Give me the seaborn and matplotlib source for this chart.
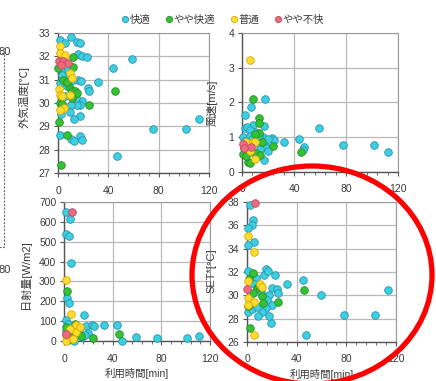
import numpy as np
import pandas as pd
import matplotlib
matplotlib.use("Agg")
import matplotlib.pyplot as plt
import seaborn as sns
from matplotlib.lines import Line2D
from matplotlib.patches import Ellipse, Rectangle
from matplotlib.ticker import MultipleLocator

# ---- data -------------------------------------------------------------
categories = ["快適", "やや快適", "普通", "やや不快"]

# usage time [min], outdoor temperature [°C], comfort category index
temp_x = [1.6, 5.6, 10.3, 14.8, 17.5, 16, 18.8, 22.8, 2.9, 7.7, 59, 44, 16.1, 18.2, 5.6, 32,
          23.6, 24.4, 6.9, 5.6, 18.8, 17.5, 15, 10.3, 2.4, 9.5, 17.5, 13, 1.6, 10.3, 13, 17.5,
          18.8, 46.6, 75.7, 102, 112, 3.5, 8, 12, 1.2, 14,
          12.2, 0.3, 12.2, 4.2, 45.3, 9.5, 10.9, 13.5, 14.8, 24.6, 1.6, 3, 0.8, 6.9, 2.4, 7, 11,
          1.6, 1.6, 5.6, 9.5, 10.9, 0.8, 1.6, 9.5, 5, 1.6, 3,
          0.8, 4.2, 7.7, 2]
temp_y = [32.71, 32.57, 32.81, 32.61, 32.57, 32.1, 32.0, 31.98, 31.36, 31.43, 31.9, 31.5, 31.0,
          30.95, 31.07, 30.9, 30.64, 30.5, 30.71, 30.3, 30.1, 29.9, 29.9, 29.93, 29.53, 29.61,
          29.43, 29.3, 28.64, 28.44, 28.38, 28.57, 28.4, 27.74, 28.87, 28.87, 29.3, 31.2, 30.8,
          31.0, 30.85, 30.2,
          31.96, 31.5, 31.53, 31.0, 30.53, 30.64, 30.5, 30.5, 30.45, 29.9, 30.0, 29.95, 29.19,
          28.61, 27.35, 30.9, 30.2,
          32.43, 32.14, 32.07, 31.29, 31.07, 30.6, 30.36, 30.36, 29.79, 29.7, 30.3,
          31.79, 31.79, 31.71, 31.65]
temp_c = [0] * 42 + [1] * 17 + [2] * 11 + [3] * 4

# usage time [min], wind speed [m/s]
wind_x = [2.6, 6.6, 17.8, 8.4, 17.3, 2, 4, 59.4, 10, 5.8, 0.8, 6, 16, 23, 24.5, 32.6, 44, 47.4,
          46.8, 12.7, 18, 18.5, 14, 3.5, 16.7, 20, 77.5, 101.7, 112.4, 8, 13, 20, 2, 9, 12,
          8.4, 12.7, 12.7, 12.7, 10, 45.3, 0.8, 11, 23.7, 4.6, 6.5, 14, 3, 15, 1.5,
          5.9, 3, 8.4, 10, 9.7, 1.5, 6,
          0.8, 6.6, 1.5]
wind_y = [1.63, 1.86, 2.11, 1.36, 1.31, 1.28, 1.3, 1.28, 1.15, 1.2, 1.02, 1.05, 1.02, 0.98, 0.93,
          0.85, 0.96, 0.71, 0.64, 0.8, 0.78, 0.7, 0.65, 0.62, 0.35, 0.6, 0.78, 0.78, 0.58, 0.95,
          1.05, 0.95, 0.9, 0.55, 0.45,
          2.11, 1.55, 1.41, 1.12, 1.1, 0.58, 0.52, 0.55, 0.74, 0.3, 0.27, 0.5, 0.45, 0.85, 0.7,
          3.21, 0.85, 0.87, 0.85, 0.38, 0.75, 0.6,
          0.82, 0.71, 0.68]
wind_c = [0] * 35 + [1] * 15 + [2] * 7 + [3] * 3

# usage time [min], solar radiation [W/m2]
solar_x = [2, 5.3, 1.4, 4.1, 6.1, 2.5, 4.1, 16.2, 1.4, 10.2, 18.4, 23.3, 32.9, 43.6, 48, 59,
           76.5, 101, 111, 15, 20, 6, 12, 2, 8, 17, 25, 3,
           2.5, 1.4, 45.2, 23.8, 6, 11, 14, 5, 3, 9,
           1.4, 6.1, 10.2, 10.2, 1.4, 5, 2, 13, 7,
           6.9, 1.4]
solar_y = [650, 616, 539, 527, 392, 219, 190, 131, 105, 78, 78, 80, 81, 82, 0, 22, 17, 17, 27,
           20, 40, 10, 55, 50, 0, 30, 78, 85,
           253, 73, 34, 17, 40, 60, 25, 20, 5, 85,
           305, 135, 81, 46, 0, 60, 30, 70, 10,
           650, 34]
solar_c = [0] * 28 + [1] * 10 + [2] * 9 + [3] * 2

# usage time [min], SET* [°C]
set_x = [2.3, 4.5, 3.9, 1.2, 5.8, 1.2, 15.3, 13.7, 22.8, 45, 32.3, 59.9, 113.7, 19.3, 47.7, 78.3,
         102.8, 1, 7, 17, 20, 24, 18, 16, 20, 15, 12, 9, 18, 1, 4, 8, 11, 6, 25,
         4.5, 2, 45.6, 24.7, 2.3, 8, 12, 13, 5, 10, 1,
         1.2, 5.8, 1.2, 10.4, 12, 1.2, 5.8, 1.2, 5.8,
         6.6, 0]
set_y = [37.77, 36.48, 36.05, 35.8, 34.55, 34.3, 32.25, 31.7, 31.74, 31.3, 30.93, 30.07, 30.45,
         27.66, 26.63, 28.35, 28.35, 32.1, 31.5, 32.1, 30.6, 30.5, 30.0, 29.6, 29.2, 28.9, 28.6,
         28.2, 28.2, 28.6, 28.8, 29.0, 30.3, 31.0, 30.2,
         31.9, 31.4, 30.45, 29.39, 27.2, 30.6, 29.9, 29.3, 30.2, 30.8, 29.1,
         35.12, 33.7, 31.2, 30.94, 30.7, 29.78, 29.4, 29.2, 26.63,
         37.95, 30.53]
set_c = [0] * 35 + [1] * 11 + [2] * 9 + [3] * 2

# ---- styling ------------------------------------------------------------
face_colors = ["#3ccfe0", "#35c135", "#ffdc2e", "#ec6a80"]
edge_colors = ["#2a93b0", "#249024", "#d9a800", "#c84860"]

sns.set_theme(style="white")
plt.rcParams["font.family"] = ["Liberation Sans", "Noto Sans CJK JP", "DejaVu Sans"]
plt.rcParams["axes.unicode_minus"] = False

W, H = 436, 381
fig = plt.figure(figsize=(W / 100, H / 100), dpi=100)


def box(l, t, r, b):
    return [l / W, 1 - b / H, (r - l) / W, (b - t) / H]


panels = [
    dict(rect=box(58, 33, 209, 173), x=temp_x, y=temp_y, c=temp_c, ylim=(27, 33), ystep=1,
         ylabel="外気温度[℃]", ylab=(-0.185, 0.54), xlabel=None),
    dict(rect=box(242, 33, 398, 172), x=wind_x, y=wind_y, c=wind_c, ylim=(0, 4), ystep=1,
         ylabel="風速[m/s]", ylab=(-0.155, 0.50), xlabel=None),
    dict(rect=box(64, 202, 210, 341), x=solar_x, y=solar_y, c=solar_c, ylim=(0, 700), ystep=100,
         ylabel="日射量[W/m2]", ylab=(-0.225, 0.48), xlabel="利用時間[min]"),
    dict(rect=box(247, 202, 396, 342), x=set_x, y=set_y, c=set_c, ylim=(26, 38), ystep=2,
         ylabel="SET*[°C]", ylab=(-0.205, 0.51), xlabel="利用時間[min]"),
]

text_col = "#3a3a3a"
for p in panels:
    ax = fig.add_axes(p["rect"])
    df = pd.DataFrame({"x": p["x"], "y": p["y"],
                       "cat": [categories[i] for i in p["c"]]})
    for k, name in enumerate(categories):
        sub = df[df["cat"] == name]
        sns.scatterplot(data=sub, x="x", y="y", ax=ax, color=face_colors[k],
                        edgecolor=edge_colors[k], linewidth=0.6, s=30, clip_on=False,
                        legend=False, zorder=3 + k)
    ax.set_xlim(0, 120)
    ax.set_ylim(*p["ylim"])
    ax.xaxis.set_major_locator(MultipleLocator(40))
    ax.xaxis.set_minor_locator(MultipleLocator(8))
    ax.yaxis.set_major_locator(MultipleLocator(p["ystep"]))
    ax.grid(True, which="major", color="#b8b8b8", linewidth=0.9)
    ax.set_axisbelow(True)
    for side in ["top", "right"]:
        ax.spines[side].set_color("#9a9a9a")
        ax.spines[side].set_linewidth(0.8)
    for side in ["left", "bottom"]:
        ax.spines[side].set_color("#555555")
        ax.spines[side].set_linewidth(1.0)
    ax.tick_params(axis="both", which="major", direction="out", length=3, width=0.8,
                   color="#555555", labelsize=7.5, labelcolor=text_col, left=True,
                   bottom=True)
    ax.tick_params(axis="y", which="major", pad=2.5)
    ax.tick_params(axis="x", which="major", pad=6)
    ax.tick_params(axis="x", which="minor", direction="out", length=2, width=0.6,
                   color="#555555", bottom=True)
    ax.set_ylabel(p["ylabel"], fontsize=8, color=text_col)
    ax.yaxis.set_label_coords(*p["ylab"])
    if p["xlabel"]:
        ax.set_xlabel(p["xlabel"], fontsize=7.5, color=text_col, labelpad=3)
    else:
        ax.set_xlabel("")

# legend across the top
handles = [Line2D([0], [0], marker="o", linestyle="", markersize=4.5,
                  markerfacecolor=face_colors[k], markeredgecolor=edge_colors[k],
                  markeredgewidth=0.6) for k in range(4)]
fig.legend(handles, categories, loc="center", bbox_to_anchor=(223 / W, 1 - 20 / H), ncol=4,
           frameon=False, fontsize=7.5, handlelength=0.6, handletextpad=0.15,
           columnspacing=1.5, labelcolor=text_col)

# highlight ring around the SET* panel
fig.add_artist(Ellipse((312 / W, 1 - 275 / H), width=240 / W, height=218 / H,
                       transform=fig.transFigure, fill=False, edgecolor="#ff0000",
                       linewidth=3.8, zorder=20))

# neighbouring chart edge on the left
fig.add_artist(Rectangle((-20 / W, 1 - 247 / H), 24 / W, 194 / H, transform=fig.transFigure,
                         fill=False, edgecolor="#707070", linewidth=0.8,
                         linestyle=(0, (2, 1.2))))
fig.text(11 / W, 1 - 52 / H, "80", ha="right", va="center", fontsize=8, color=text_col)
fig.text(11 / W, 1 - 270 / H, "80", ha="right", va="center", fontsize=8, color=text_col)

fig.savefig("out.png", dpi=100)
